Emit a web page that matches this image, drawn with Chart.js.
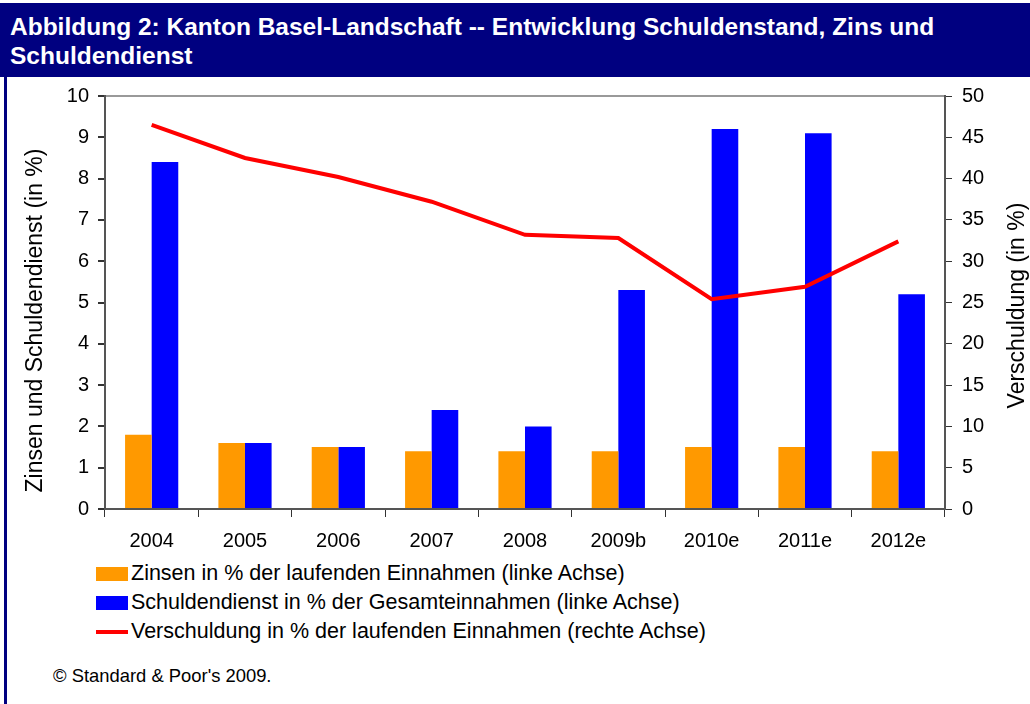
<!DOCTYPE html>
<html>
<head>
<meta charset="utf-8">
<script src="https://cdn.jsdelivr.net/npm/chart.js@4/dist/chart.umd.min.js"></script>
<style>
  body { margin: 0; background: #fff; font-family: "Liberation Sans", Arial, sans-serif; }
  #wrap { position: relative; width: 1030px; height: 704px; overflow: hidden; }
  #titlebar { position: absolute; left: 0; top: 3px; width: 1030px; height: 74px; background: #000080;
    color: #fff; font-weight: bold; font-size: 24.5px; line-height: 29px; padding: 9px 0 0 10px; box-sizing: border-box; white-space: nowrap; }
  #leftbar { position: absolute; left: 4px; top: 3px; width: 3px; height: 701px; background: #000080; }
  #chartBox { position: absolute; left: 8px; top: 74px; width: 1022px; height: 480px; }
  #legend { position: absolute; left: 96px; top: 559px; font-size: 21.5px; color: #000; }
  .row { height: 29px; display: flex; align-items: center; }
  .sw { width: 32px; margin-right: 3px; }
  #copy { position: absolute; left: 53px; top: 665px; font-size: 18.4px; color: #000; }
</style>
</head>
<body>
<div id="wrap">
  <div id="titlebar">Abbildung 2: Kanton Basel-Landschaft -- Entwicklung Schuldenstand, Zins und<br>Schuldendienst</div>
  <div id="leftbar"></div>
  <div id="chartBox"><canvas id="chart"></canvas></div>
  <div id="legend"></div>
  <div id="copy">© Standard &amp; Poor's 2009.</div>
</div>
<script>
const years = ['2004', '2005', '2006', '2007', '2008', '2009b', '2010e', '2011e', '2012e'];
const zinsen = [1.8, 1.6, 1.5, 1.4, 1.4, 1.4, 1.5, 1.5, 1.4];
const schuldendienst = [8.4, 1.6, 1.5, 2.4, 2.0, 5.3, 9.2, 9.1, 5.2];
const verschuldung = [46.5, 42.5, 40.2, 37.2, 33.2, 32.8, 25.4, 26.9, 32.4];

const labelZinsen = 'Zinsen in % der laufenden Einnahmen (linke Achse)';
const labelDienst = 'Schuldendienst in % der Gesamteinnahmen (linke Achse)';
const labelVerschuldung = 'Verschuldung in % der laufenden Einnahmen (rechte Achse)';
const leftTitle = 'Zinsen und Schuldendienst (in %)';
const rightTitle = 'Verschuldung (in %)';

const tickFont = { family: 'Liberation Sans', size: 20 };
const titleFont = { family: 'Liberation Sans', size: 23 };

// both axis titles read bottom-to-top, drawn next to their scales
const axisTitlePlugin = {
    id: 'axisTitles',
    afterDraw(chart) {
        const c = chart.ctx;
        const mid = (chart.chartArea.top + chart.chartArea.bottom) / 2;
        const draw = (text, x, y) => {
            c.save();
            c.translate(x, y);
            c.rotate(-Math.PI / 2);
            c.font = titleFont.size + 'px ' + titleFont.family;
            c.fillStyle = '#000';
            c.textAlign = 'center';
            c.textBaseline = 'middle';
            c.fillText(text, 0, 0);
            c.restore();
        };
        draw(leftTitle, chart.scales.y.left + 28, mid + 18);
        draw(rightTitle, chart.scales.y2.right - 12, mid + 3);
    }
};

const ctx = document.getElementById('chart').getContext('2d');
const chart = new Chart(ctx, {
    data: {
        labels: years,
        datasets: [
            {
                type: 'line',
                label: labelVerschuldung,
                data: verschuldung,
                yAxisID: 'y2',
                borderColor: '#ff0000',
                borderWidth: 4,
                pointRadius: 0,
                tension: 0,
                order: 0
            },
            {
                type: 'bar',
                label: labelZinsen,
                data: zinsen,
                yAxisID: 'y',
                backgroundColor: '#ff9900',
                categoryPercentage: 0.57,
                barPercentage: 1,
                order: 1
            },
            {
                type: 'bar',
                label: labelDienst,
                data: schuldendienst,
                yAxisID: 'y',
                backgroundColor: '#0000ff',
                categoryPercentage: 0.57,
                barPercentage: 1,
                order: 1
            }
        ]
    },
    options: {
        responsive: true,
        maintainAspectRatio: false,
        animation: false,
        layout: { padding: 0 },
        plugins: {
            legend: { display: false },
            tooltip: { enabled: false }
        },
        scales: {
            x: {
                grid: { drawOnChartArea: false, tickLength: 8, color: '#333', offset: true },
                border: { color: '#555', width: 2 },
                ticks: { font: tickFont, color: '#000', padding: 12, maxRotation: 0 },
                afterFit: (s) => { s.height = 45; }
            },
            y: {
                position: 'left',
                min: 0, max: 10,
                ticks: { stepSize: 1, font: tickFont, color: '#000', padding: 9 },
                grid: {
                    tickLength: 7,
                    color: (c) => c.tick && c.tick.value === 10 ? '#999' : 'rgba(0,0,0,0)',
                    tickColor: '#333',
                    lineWidth: 2
                },
                border: { color: '#555', width: 2 },
                afterFit: (s) => { s.width = 97; }
            },
            y2: {
                position: 'right',
                min: 0, max: 50,
                ticks: { stepSize: 5, font: tickFont, color: '#000', padding: 10 },
                grid: { drawOnChartArea: false, tickLength: 7, tickColor: '#333' },
                border: { color: '#555', width: 2 },
                afterFit: (s) => { s.width = 85; }
            }
        }
    },
    plugins: [axisTitlePlugin]
});

// legend built from the chart datasets, in the order shown in the reference
const legendEl = document.getElementById('legend');
[1, 2, 0].forEach((i) => {
    const ds = chart.data.datasets[i];
    const row = document.createElement('div');
    row.className = 'row';
    const sw = document.createElement('span');
    sw.className = 'sw';
    if (ds.type === 'bar') {
        sw.style.height = '14px';
        sw.style.background = ds.backgroundColor;
    } else {
        sw.style.height = '4px';
        sw.style.background = ds.borderColor;
    }
    row.appendChild(sw);
    row.appendChild(document.createTextNode(ds.label));
    legendEl.appendChild(row);
});
</script>
</body>
</html>
